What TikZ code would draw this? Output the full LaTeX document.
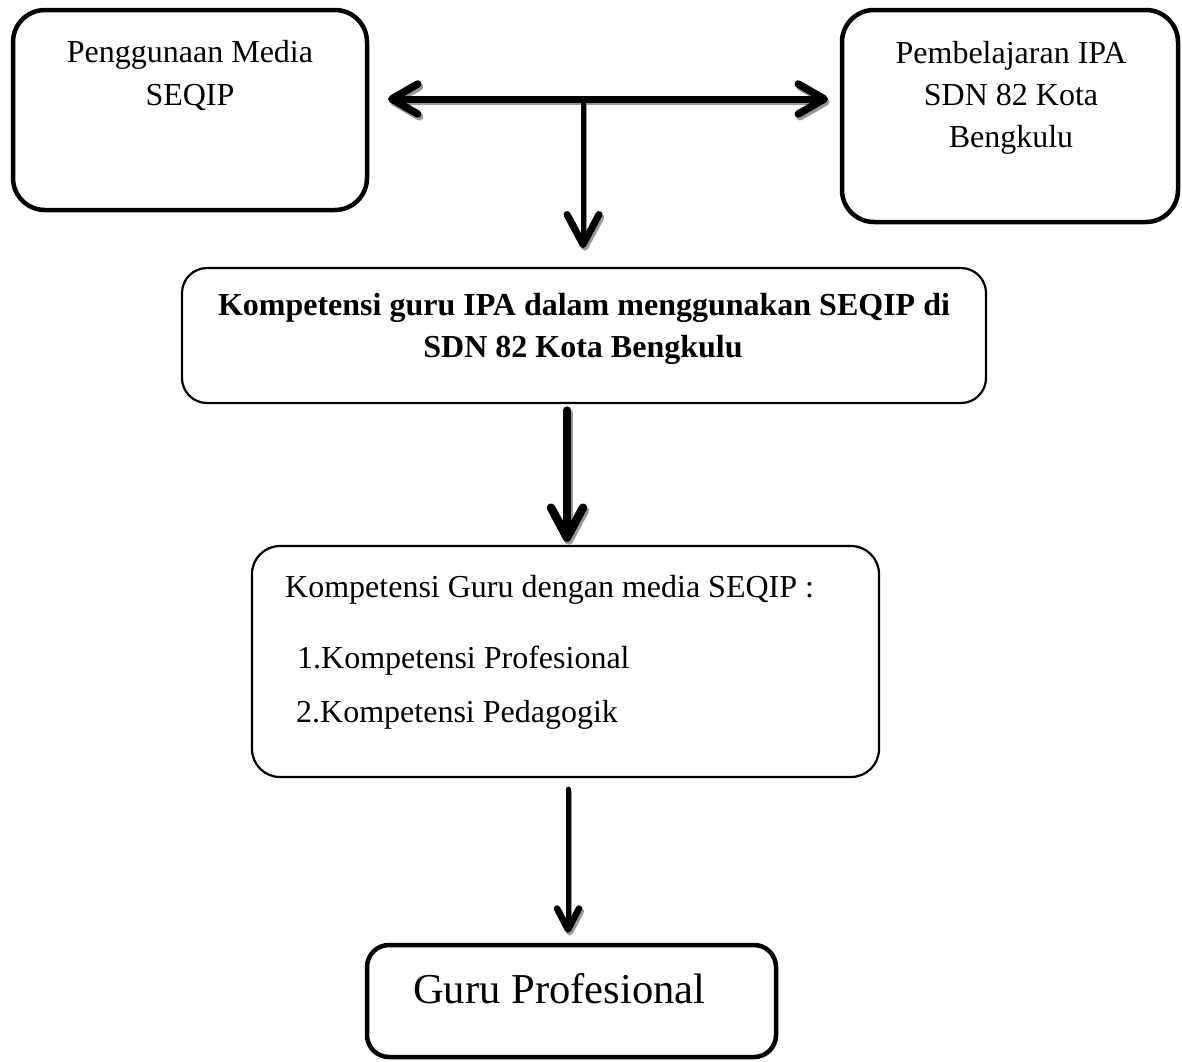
\documentclass[tikz,border=0pt]{standalone}
\usepackage{fontspec}
\setmainfont{Liberation Serif}
\usetikzlibrary{arrows.meta}
\begin{document}
\begin{tikzpicture}[x=1pt,y=-1pt,
  thickbox/.style={draw, line width=4.5pt, rounded corners=32pt, inner sep=0pt},
  thinbox/.style={draw, line width=2.2pt, rounded corners=25pt, inner sep=0pt},
  txt/.style={anchor=base, inner sep=0pt, font=\fontsize{32}{40}\selectfont},
  txtl/.style={anchor=base west, inner sep=0pt, font=\fontsize{32}{40}\selectfont},
  btxt/.style={anchor=base, inner sep=0pt, font=\fontsize{32}{40}\selectfont\bfseries},
  barb/.style={line cap=round},
  shadowcol/.style={draw=black!40},
  bothH/.style={arrows={Straight Barb[length=26pt, width=30pt, line width=7.5pt, round]-Straight Barb[length=26pt, width=30pt, line width=7.5pt, round]}},
  headV/.style={arrows={-Straight Barb[length=30pt, width=32pt, line width=7pt, round]}},
  headM/.style={arrows={-Straight Barb[length=30pt, width=32pt, line width=8.5pt, round]}},
  headS/.style={arrows={-Straight Barb[length=21pt, width=22pt, line width=6.5pt, round]}}
]
\useasboundingbox (0,0) rectangle (1182,1061);

% boxes
\node[thickbox, minimum width=354pt, minimum height=200pt] (A) at (190,110) {};
\node[thickbox, minimum width=336pt, minimum height=212pt] (B) at (1010,116) {};
\node[thinbox, minimum width=804pt, minimum height=135pt] (C) at (584,335.5) {};
\node[thinbox, minimum width=627pt, minimum height=231pt, rounded corners=28pt] (D) at (565.5,661.5) {};
\node[thickbox, minimum width=409pt, minimum height=112pt, rounded corners=22pt] (E) at (571.5,1001) {};

% texts
\node[txt] (a1) at (190,62) {Penggunaan Media};
\node[txt] (a2) at (190,105) {SEQIP};
\node[txt] (b1) at (1011,63) {Pembelajaran IPA};
\node[txt] (b2) at (1011,105) {SDN 82 Kota};
\node[txt] (b3) at (1011,147) {Bengkulu};
\node[btxt] (c1) at (584,315) {Kompetensi guru IPA dalam menggunakan SEQIP di};
\node[btxt] (c2) at (583,357) {SDN 82 Kota Bengkulu};
\node[txtl] (d1) at (285,597) {Kompetensi Guru dengan media SEQIP :};
\node[txtl] (d2) at (297,668) {1.Kompetensi Profesional};
\node[txtl] (d3) at (296,722) {2.Kompetensi Pedagogik};
\node[anchor=base west, inner sep=0pt, font=\fontsize{42.6}{50}\selectfont] (e1) at (413,1003) {Guru Profesional};

% connector end points
\coordinate (hl) at (388,99);
\coordinate (hr) at (828,99);
\coordinate (hm) at (583,99);
\coordinate (hd) at (583,248);
\coordinate (m1) at ([xshift=-17pt,yshift=-6pt]C.south);
\coordinate (m2) at ([xshift=1.5pt,yshift=3pt]D.north);
\coordinate (s1) at ([xshift=2.5pt,yshift=-11pt]D.south);
\coordinate (s2) at ([xshift=-3.5pt,yshift=10pt]E.north);

% shadows
\begin{scope}[transform canvas={shift={(1.8pt,-2.8pt)}}]
\draw[barb, shadowcol, line width=7pt, bothH] (hl) -- (hr);
\draw[barb, shadowcol, line width=5pt, headV] (hm) -- (hd);
\draw[barb, shadowcol, line width=7.5pt, headM] (m1) -- (m2);
\draw[barb, shadowcol, line width=5pt, headS] (s1) -- (s2);
\end{scope}

% connectors
\draw[barb, line width=7pt, bothH] (hl) -- (hr);
\draw[barb, line width=5pt, headV] (hm) -- (hd);
\draw[barb, line width=7.5pt, headM] (m1) -- (m2);
\draw[barb, line width=5pt, headS] (s1) -- (s2);
\end{tikzpicture}
\end{document}
